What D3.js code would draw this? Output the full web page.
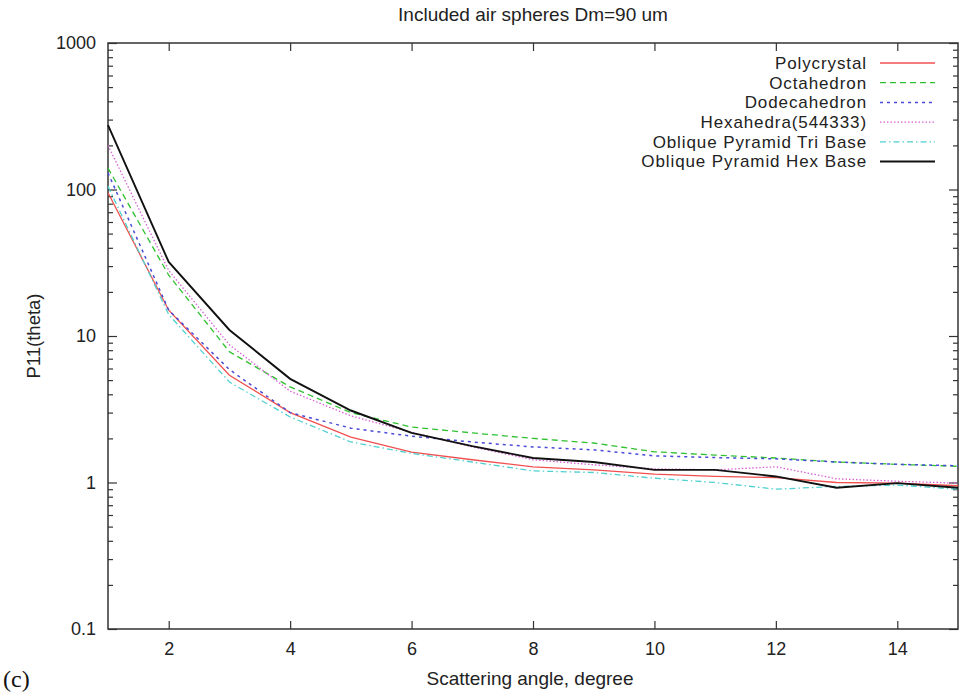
<!DOCTYPE html>
<html>
<head>
<meta charset="utf-8">
<script src="https://cdn.jsdelivr.net/npm/d3@7"></script>
<style>
  body { margin: 0; background: #fff; }
  svg { display: block; font-family: "Liberation Sans", Arial, sans-serif; }
</style>
</head>
<body>
<svg id="svgRoot" width="959" height="692"></svg>
<script>
// scattering angles, degree
const angles = [1, 2, 3, 4, 5, 6, 7, 8, 9, 10, 11, 12, 13, 14, 15]

// P11 values
const polycrystal  = [95, 15, 5.4, 3.0, 2.04, 1.61, 1.43, 1.28, 1.22, 1.14, 1.1, 1.08, 1.0, 0.99, 0.95]
const octahedron   = [140, 26, 7.8, 4.5, 3.0, 2.39, 2.18, 2.0, 1.86, 1.62, 1.54, 1.47, 1.38, 1.33, 1.29]
const dodecahedron = [130, 15, 5.9, 3.0, 2.35, 2.07, 1.89, 1.75, 1.67, 1.52, 1.48, 1.45, 1.38, 1.33, 1.3]
const hexahedra    = [200, 28, 8.7, 4.2, 2.85, 2.2, 1.75, 1.43, 1.32, 1.24, 1.22, 1.28, 1.06, 1.02, 0.99]
const triBase      = [105, 14, 4.85, 2.8, 1.89, 1.58, 1.38, 1.2, 1.17, 1.07, 1.0, 0.9, 0.94, 0.96, 0.9]
const hexBase      = [275, 32, 11, 5.1, 3.1, 2.18, 1.77, 1.47, 1.38, 1.22, 1.22, 1.1, 0.92, 0.99, 0.92]

const seriesNames = ["Polycrystal", "Octahedron", "Dodecahedron", "Hexahedra(544333)",
                     "Oblique Pyramid Tri Base", "Oblique Pyramid Hex Base"]
const seriesValues = [polycrystal, octahedron, dodecahedron, hexahedra, triBase, hexBase]
const seriesColors = ["#f05050", "#30c030", "#4a4ad8", "#d860d8", "#50d0d0", "#111111"]
const seriesDash = ["none", "6,4", "3,4", "1.5,2", "6,3,1.5,3", "none"]
const seriesWidth = [1.3, 1.3, 1.5, 1.3, 1.3, 1.9]

const xTicks = [2, 4, 6, 8, 10, 12, 14]
const yTicks = [0.1, 1, 10, 100, 1000]
const yTickLabels = ["0.1", "1", "10", "100", "1000"]

function draw_vis() {
  let svg = d3.select("#svgRoot")

  const margin = { top: 43, left: 108, bottom: 63, right: 1 }
  let width = 959
  let height = 692

  let scale_x = d3.scaleLinear()
    .domain([1, 15])
    .range([margin.left, width - margin.right])

  let scale_y = d3.scaleLog()
    .domain([0.1, 1000])
    .range([height - margin.bottom, margin.top])

  // minor ticks for log axis
  let minorTicks = []
  for (let e = -1; e < 3; e++) {
    for (let m = 2; m <= 9; m++) minorTicks.push(m * Math.pow(10, e))
  }

  const axisColor = "#333"

  function styleAxis(g) {
    g.select(".domain").remove()
    g.selectAll("line").attr("stroke", axisColor).attr("stroke-width", 1.2)
    g.selectAll("text").attr("fill", "#222").attr("font-size", 18)
  }

  // bottom axis, ticks inward
  svg.append("g")
    .attr("transform", "translate(0," + (height - margin.bottom) + ")")
    .call(d3.axisBottom(scale_x).tickValues(xTicks).tickSizeInner(-8).tickSizeOuter(0).tickPadding(13))
    .call(styleAxis)

  // top axis
  svg.append("g")
    .attr("transform", "translate(0," + margin.top + ")")
    .call(d3.axisTop(scale_x).tickValues(xTicks).tickSizeInner(-8).tickSizeOuter(0).tickFormat(""))
    .call(styleAxis)

  // left axis major
  svg.append("g")
    .attr("transform", "translate(" + margin.left + ",0)")
    .call(d3.axisLeft(scale_y).tickValues(yTicks).tickSizeInner(-9).tickSizeOuter(0)
      .tickPadding(12).tickFormat((d, i) => yTickLabels[i]))
    .call(styleAxis)

  // left axis minor
  svg.append("g")
    .attr("transform", "translate(" + margin.left + ",0)")
    .call(d3.axisLeft(scale_y).tickValues(minorTicks).tickSizeInner(-5).tickSizeOuter(0).tickFormat(""))
    .call(styleAxis)

  // right axis major + minor
  svg.append("g")
    .attr("transform", "translate(" + (width - margin.right) + ",0)")
    .call(d3.axisRight(scale_y).tickValues(yTicks).tickSizeInner(-9).tickSizeOuter(0).tickFormat(""))
    .call(styleAxis)
  svg.append("g")
    .attr("transform", "translate(" + (width - margin.right) + ",0)")
    .call(d3.axisRight(scale_y).tickValues(minorTicks).tickSizeInner(-5).tickSizeOuter(0).tickFormat(""))
    .call(styleAxis)

  // frame
  svg.append("rect")
    .attr("x", margin.left)
    .attr("y", margin.top)
    .attr("width", width - margin.right - margin.left)
    .attr("height", height - margin.bottom - margin.top)
    .attr("fill", "none")
    .attr("stroke", axisColor)
    .attr("stroke-width", 1.5)

  // lines
  let line = d3.line()
    .x((d) => scale_x(d[0]))
    .y((d) => scale_y(d[1]))

  let g_lines = svg.append("g").attr("class", "g_lines")
  seriesValues.forEach((vals, i) => {
    g_lines.append("path")
      .datum(angles.map((a, j) => [a, vals[j]]))
      .attr("d", line)
      .attr("fill", "none")
      .attr("stroke", seriesColors[i])
      .attr("stroke-width", seriesWidth[i])
      .attr("stroke-dasharray", seriesDash[i])
  })

  // legend
  let legend = svg.append("g").attr("class", "legend")
  seriesNames.forEach((name, i) => {
    let y = 63 + i * 19.7
    legend.append("text")
      .attr("x", 867)
      .attr("y", y)
      .attr("dy", "0.35em")
      .attr("text-anchor", "end")
      .attr("font-size", 17)
      .attr("letter-spacing", 0.9)
      .attr("fill", "#222")
      .text(name)
    legend.append("line")
      .attr("x1", 880).attr("x2", 935)
      .attr("y1", y).attr("y2", y)
      .attr("stroke", seriesColors[i])
      .attr("stroke-width", seriesWidth[i])
      .attr("stroke-dasharray", seriesDash[i])
  })

  // title and labels
  svg.append("text")
    .attr("x", 533).attr("y", 14).attr("dy", "0.35em")
    .attr("text-anchor", "middle").attr("font-size", 19).attr("fill", "#222")
    .text("Included air spheres Dm=90 um")

  svg.append("text")
    .attr("x", 530).attr("y", 678).attr("dy", "0.35em")
    .attr("text-anchor", "middle").attr("font-size", 19).attr("fill", "#222")
    .text("Scattering angle, degree")

  svg.append("text")
    .attr("transform", "translate(34," + scale_y(10) + ") rotate(-90)")
    .attr("dy", "0.35em")
    .attr("text-anchor", "middle").attr("font-size", 18.5).attr("fill", "#222")
    .text("P11(theta)")

  svg.append("text")
    .attr("x", 3).attr("y", 679).attr("dy", "0.35em")
    .attr("font-family", "'Liberation Serif', 'Times New Roman', serif")
    .attr("font-size", 24).attr("fill", "#111")
    .text("(c)")
}

draw_vis()
</script>
</body>
</html>
